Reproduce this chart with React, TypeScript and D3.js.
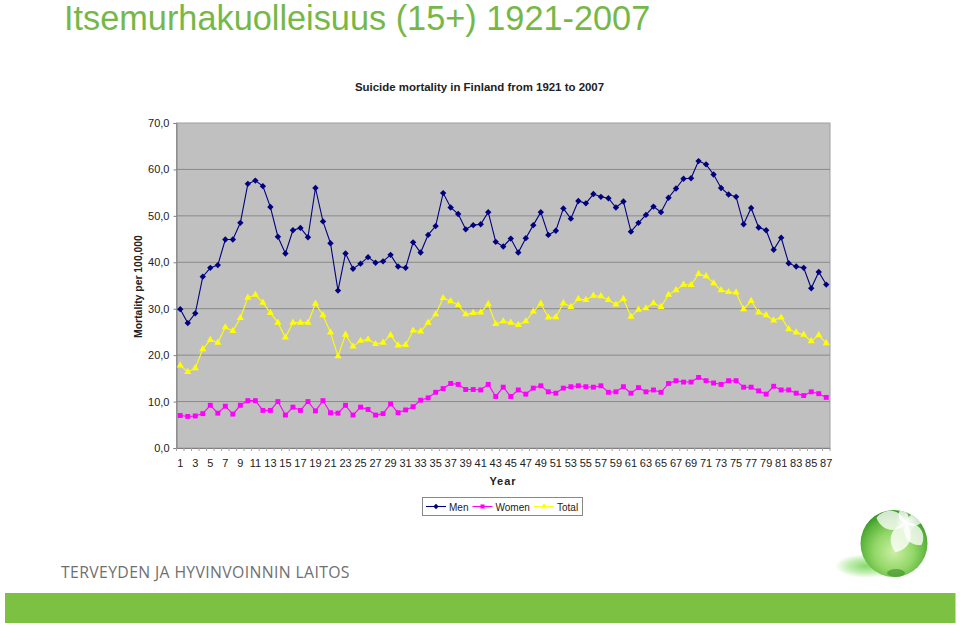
import React, { useEffect, useRef } from 'react';
import * as d3 from 'd3';

const years = d3.range(1, 88);
const valueTicks = [0, 10, 20, 30, 40, 50, 60, 70];
const yearTicks = years.filter((y) => y % 2 === 1);

const men = [
  29.9, 26.9, 29.0, 36.9, 38.8, 39.4, 44.9, 44.9, 48.5, 56.9, 57.6, 56.4, 51.9, 45.5, 41.9, 46.9, 47.4, 45.4, 56.0, 48.8, 44.1, 33.9,
  41.9, 38.6, 39.7, 41.1, 39.9, 40.2, 41.6, 39.1, 38.8, 44.3, 42.1, 45.9, 47.8, 54.9, 51.8, 50.4, 47.1, 48.0, 48.2, 50.8, 44.4, 43.4,
  45.1, 42.1, 45.2, 48.0, 50.8, 45.9, 46.8, 51.6, 49.4, 53.2, 52.7, 54.7, 54.1, 53.8, 51.8, 53.1, 46.6, 48.5, 50.2, 52.0, 50.8, 53.9,
  55.9, 58.0, 58.1, 61.8, 61.1, 58.9, 56.0, 54.6, 54.1, 48.2, 51.7, 47.5, 46.9, 42.7, 45.3, 39.8, 39.1, 38.8, 34.4, 37.9, 35.2,
];
const women = [
  7.0, 6.8, 6.9, 7.4, 9.2, 7.5, 9.0, 7.3, 9.2, 10.2, 10.2, 8.1, 8.1, 10.0, 7.1, 8.8, 8.1, 10.0, 8.0, 10.2, 7.6, 7.5,
  9.2, 7.1, 8.8, 8.3, 7.1, 7.4, 9.5, 7.6, 8.2, 8.9, 10.3, 10.8, 12.0, 12.8, 13.9, 13.7, 12.6, 12.6, 12.5, 13.7, 11.1, 13.1,
  11.1, 12.5, 11.6, 12.9, 13.4, 12.1, 11.8, 12.9, 13.2, 13.4, 13.2, 13.1, 13.4, 12.0, 12.1, 13.2, 11.8, 13.0, 12.1, 12.5, 12.0, 13.9,
  14.5, 14.2, 14.2, 15.2, 14.5, 14.0, 13.7, 14.5, 14.5, 13.1, 13.1, 12.3, 11.6, 13.3, 12.5, 12.5, 11.8, 11.3, 12.1, 11.7, 10.9,
];
const total = [
  17.8, 16.4, 17.2, 21.3, 23.3, 22.7, 26.0, 25.2, 28.0, 32.4, 33.0, 31.3, 29.1, 27.0, 23.8, 27.0, 27.0, 27.0, 31.1, 28.6, 24.9, 19.8,
  24.4, 21.9, 23.1, 23.4, 22.4, 22.7, 24.3, 22.1, 22.2, 25.3, 25.1, 27.0, 28.8, 32.3, 31.6, 30.8, 28.8, 29.1, 29.2, 31.0, 26.7, 27.3,
  27.0, 26.5, 27.3, 29.4, 31.1, 28.1, 28.2, 31.2, 30.4, 32.1, 31.9, 32.8, 32.7, 31.9, 30.9, 32.1, 28.3, 29.8, 30.1, 31.2, 30.4, 33.0,
  34.0, 35.2, 35.1, 37.5, 37.0, 35.5, 34.0, 33.6, 33.5, 29.9, 31.7, 29.2, 28.6, 27.5, 28.1, 25.6, 24.9, 24.4, 23.0, 24.3, 22.6,
];

const seriesNames = ['Men', 'Women', 'Total'];
const seriesColors = ['#000080', '#ff00ff', '#ffff00'];
const seriesSymbols = [d3.symbolDiamond2, d3.symbolSquare, d3.symbolTriangle];
const seriesSizes = [26, 24, 22];

// logo petals: rotation and length
const petalAngles = [-80, -20, 70, 145, 200];
const petalLengths = [30, 15, 19, 27, 31];

const chartFont = '"Liberation Sans", Arial, sans-serif';

function App() {
  const ref = useRef<SVGSVGElement>(null);

  useEffect(() => {
    const svg = d3.select(ref.current);
    svg.selectAll('*').remove();

    const left = 176.5, right = 830, top = 123, bottom = 448;
    const x = d3.scaleBand<number>().domain(years).range([left, right]);
    const cx = (d: number) => x(d)! + x.bandwidth() / 2;
    const y = d3.scaleLinear().domain([0, 70]).range([bottom, top]);

    // page furniture
    svg.append('text').attr('x', 64).attr('y', 29.5).attr('font-family', chartFont)
      .attr('font-size', 34.3).attr('fill', '#76b847').text('Itsemurhakuolleisuus (15+) 1921-2007');
    svg.append('text').attr('x', 479.5).attr('y', 91).attr('text-anchor', 'middle').attr('font-family', chartFont)
      .attr('font-size', 11.45).attr('font-weight', 'bold').attr('fill', '#222').text('Suicide mortality in Finland from 1921 to 2007');

    // plot area
    svg.append('rect').attr('x', left).attr('y', top).attr('width', right - left).attr('height', bottom - top)
      .attr('fill', '#c0c0c0').attr('stroke', '#a0a0a0').attr('stroke-width', 1);

    svg.append('g').selectAll('line').data(valueTicks.slice(1, -1)).join('line')
      .attr('x1', left).attr('x2', right).attr('y1', (d) => y(d)).attr('y2', (d) => y(d))
      .attr('stroke', '#8a8a8a').attr('stroke-width', 1);

    // axes
    const yAxis = svg.append('g').attr('transform', `translate(${left},0)`)
      .call(d3.axisLeft(y).tickValues(valueTicks).tickSize(3).tickPadding(4)
        .tickFormat((d) => d3.format('.1f')(d as number).replace('.', ',')));
    const xAxis = svg.append('g').attr('transform', `translate(0,${bottom})`)
      .call(d3.axisBottom(x).tickValues(yearTicks).tickSize(0).tickPadding(11));
    [yAxis, xAxis].forEach((a) => {
      a.attr('font-family', chartFont).attr('font-size', 11);
      a.selectAll('text').attr('fill', '#222');
      a.selectAll('line, path').attr('stroke', '#808080');
    });
    // small ticks sit between the categories
    svg.append('g').selectAll('line').data(years.concat(88)).join('line')
      .attr('x1', (d) => (d === 88 ? right : x(d)!)).attr('x2', (d) => (d === 88 ? right : x(d)!))
      .attr('y1', bottom).attr('y2', bottom + 3).attr('stroke', '#a0a0a0');

    svg.append('text').attr('transform', 'translate(142,286.5) rotate(-90)').attr('text-anchor', 'middle')
      .attr('font-family', chartFont).attr('font-size', 10.4).attr('font-weight', 'bold').attr('fill', '#222')
      .text('Mortality per 100,000');
    svg.append('text').attr('x', 503).attr('y', 485).attr('text-anchor', 'middle').attr('font-family', chartFont)
      .attr('font-size', 11).attr('font-weight', 'bold').attr('letter-spacing', 1).attr('fill', '#222').text('Year');

    // series
    [men, women, total].forEach((values, i) => {
      const line = d3.line<number>().x((_, k) => cx(years[k])).y((d) => y(d));
      const g = svg.append('g');
      g.append('path').attr('d', line(values)).attr('fill', 'none').attr('stroke', seriesColors[i]).attr('stroke-width', 1.1);
      g.selectAll('path.mark').data(values).join('path').attr('class', 'mark')
        .attr('transform', (d, k) => `translate(${cx(years[k])},${y(d)})`)
        .attr('d', d3.symbol().type(seriesSymbols[i]).size(seriesSizes[i])())
        .attr('fill', seriesColors[i]);
    });

    // legend
    svg.append('rect').attr('x', 422.5).attr('y', 497.5).attr('width', 160).attr('height', 18)
      .attr('fill', '#fff').attr('stroke', '#888');
    const legendX = [426, 472.5, 534];
    seriesNames.forEach((name, i) => {
      const g = svg.append('g').attr('transform', `translate(${legendX[i]},506.5)`);
      g.append('line').attr('x2', 20).attr('stroke', seriesColors[i]).attr('stroke-width', 1.1);
      g.append('path').attr('transform', 'translate(10,0)')
        .attr('d', d3.symbol().type(seriesSymbols[i]).size(seriesSizes[i] * 0.7)()).attr('fill', seriesColors[i]);
      g.append('text').attr('x', 23).attr('y', 4).attr('font-family', chartFont)
        .attr('font-size', 10).attr('fill', '#222').text(name);
    });

    // footer
    svg.append('text').attr('x', 61).attr('y', 578).attr('font-family', '"Open Sans", sans-serif')
      .attr('font-size', 15.8).attr('letter-spacing', 0.35).attr('fill', '#707070').text('TERVEYDEN JA HYVINVOINNIN LAITOS');
    svg.append('rect').attr('x', 5).attr('y', 593).attr('width', 950.5).attr('height', 30).attr('fill', '#7cc142');

    // logo ball
    const defs = svg.append('defs');
    const ball = defs.append('radialGradient').attr('id', 'ball').attr('cx', 0.5).attr('cy', 0.62).attr('r', 0.58);
    [[0, '#cdefa6'], [0.5, '#93d868'], [0.85, '#5cb43c'], [1, '#3f9a2c']].forEach(([o, c]) =>
      ball.append('stop').attr('offset', o as number).attr('stop-color', c as string));
    const shadow = defs.append('radialGradient').attr('id', 'shade');
    [[0, '#86d86c'], [0.6, '#c6efb6'], [1, '#ffffff']].forEach(([o, c]) =>
      shadow.append('stop').attr('offset', o as number).attr('stop-color', c as string));
    const glow = defs.append('radialGradient').attr('id', 'glow');
    [[0, 1], [1, 0]].forEach(([o, a]) =>
      glow.append('stop').attr('offset', o).attr('stop-color', '#fff').attr('stop-opacity', a));
    defs.append('clipPath').attr('id', 'ballClip').append('circle').attr('cx', 894).attr('cy', 543.5).attr('r', 33.5);

    svg.append('ellipse').attr('cx', 866).attr('cy', 566).attr('rx', 31).attr('ry', 12).attr('fill', 'url(#shade)');
    svg.append('circle').attr('cx', 894).attr('cy', 543.5).attr('r', 33.5).attr('fill', 'url(#ball)');
    svg.append('ellipse').attr('cx', 896).attr('cy', 573).attr('rx', 9).attr('ry', 4).attr('fill', '#3c8a2a').attr('fill-opacity', 0.6);
    const petal = (l: number) =>
      `M0,0 C${-l * 0.42},${-l * 0.25} ${-l * 0.42},${-l * 0.75} 0,${-l} C${l * 0.42},${-l * 0.75} ${l * 0.42},${-l * 0.25} 0,0Z`;
    const flower = svg.append('g').attr('clip-path', 'url(#ballClip)');
    petalAngles.forEach((a, i) => {
      flower.append('path').attr('d', petal(petalLengths[i])).attr('transform', `translate(906,523) rotate(${a})`)
        .attr('fill', '#fff').attr('fill-opacity', 0.78);
    });
    flower.append('circle').attr('cx', 906).attr('cy', 523).attr('r', 11).attr('fill', 'url(#glow)');
  }, []);

  return <svg ref={ref} width={960} height={625} style={{ position: 'absolute', left: 0, top: 0, background: '#fff' }} />;
}

export default App;
